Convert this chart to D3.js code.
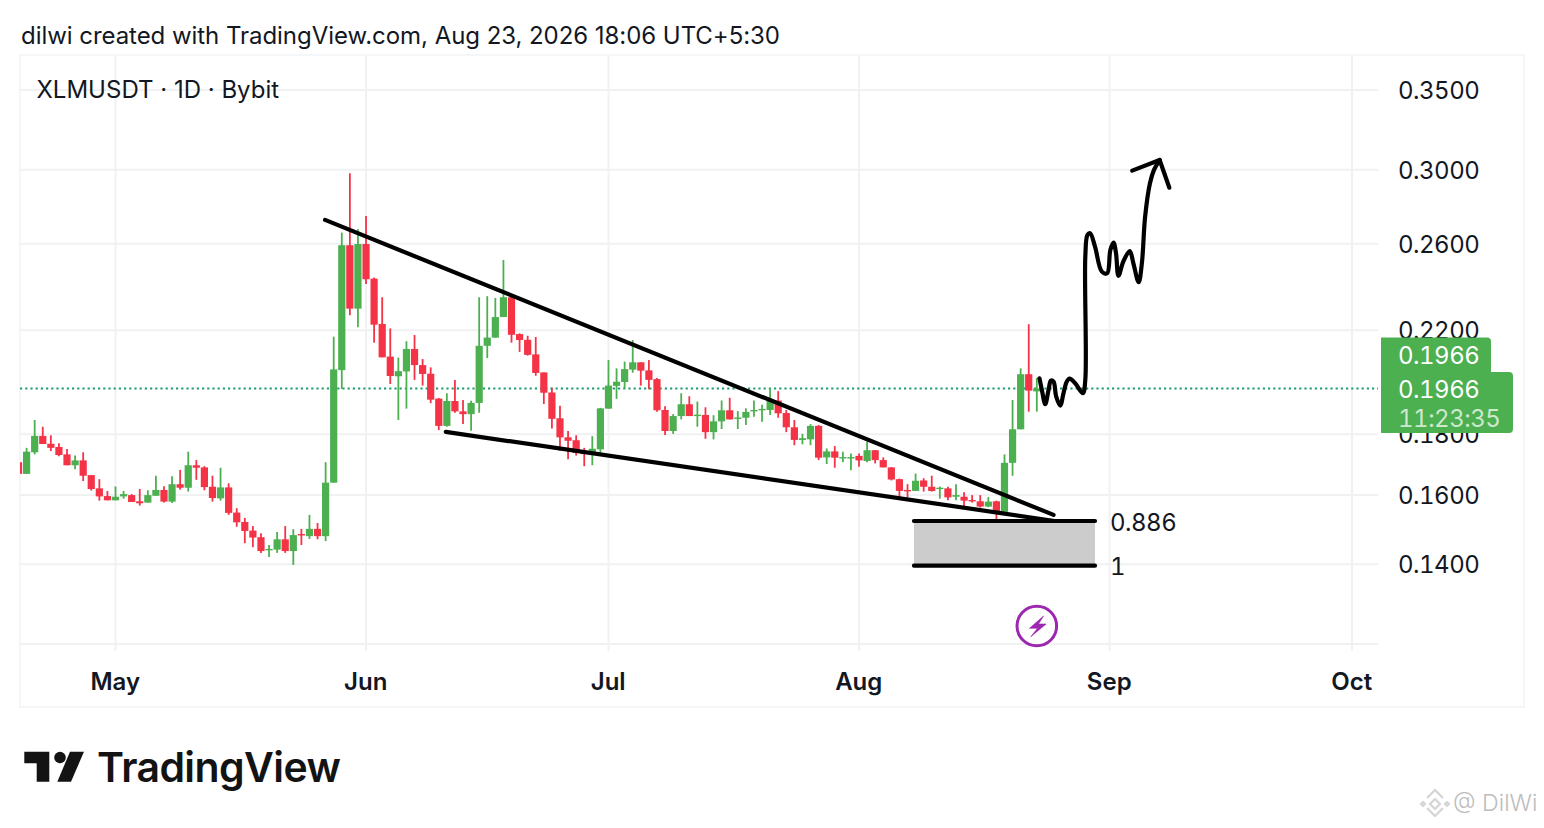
<!DOCTYPE html>
<html>
<head>
<meta charset="utf-8">
<script src="https://cdn.jsdelivr.net/npm/d3@7"></script>
<style>
  html, body { margin: 0; padding: 0; background: #fff; }
  svg { display: block; }
  text { font-family: Inter, "Noto Sans", sans-serif; fill: #131722; }
  .axis .domain { display: none; }
  .num { font-feature-settings: "tnum"; font-variant-numeric: tabular-nums; letter-spacing: -0.5px; }
</style>
</head>
<body>
<svg id="chart" width="1544" height="828"></svg>
<script>
// daily candles, first one is 19 Apr
const firstDay = new Date(Date.UTC(2026, 3, 19));
const opens = [.1705,.1667,.1738,.1794,.1767,.1756,.1731,.1695,.1711,.1663,.1621,.1597,.1584,.1596,.1600,.1581,.1577,.1598,.1616,.1580,.1634,.1623,.1695,.1688,.1626,.1590,.1624,.1547,.1519,.1494,.1475,.1439,.1440,.1469,.1436,.1484,.1478,.1499,.1478,.1639,.2037,.2593,.2294,.2599,.2431,.2227,.2091,.2013,.2032,.2122,.2057,.2023,.1928,.1829,.1919,.1881,.1871,.1912,.2135,.2169,.2257,.2345,.2184,.2160,.2100,.2028,.1951,.1856,.1789,.1779,.1738,.1732,.1748,.1891,.1976,.1991,.2039,.2068,.2036,.2002,.1886,.1811,.1864,.1907,.1865,.1868,.1807,.1845,.1885,.1856,.1858,.1882,.1886,.1886,.1921,.1875,.1824,.1780,.1782,.1829,.1721,.1741,.1720,.1720,.1726,.1709,.1745,.1712,.1688,.1650,.1616,.1613,.1646,.1626,.1620,.1621,.1595,.1595,.1585,.1581,.1565,.1581,.1549,.1703,.1817,.2021,.1955];
const highs = [.1705,.1753,.1850,.1826,.1796,.1769,.1749,.1727,.1738,.1663,.1650,.1613,.1627,.1613,.1603,.1619,.1615,.1661,.1628,.1659,.1680,.1740,.1712,.1692,.1661,.1687,.1637,.1560,.1531,.1507,.1486,.1453,.1490,.1507,.1498,.1499,.1540,.1516,.1705,.2173,.2657,.2980,.2674,.2744,.2436,.2345,.2208,.2087,.2154,.2180,.2081,.2048,.1930,.1948,.1999,.1923,.1920,.2345,.2350,.2342,.2520,.2355,.2187,.2177,.2172,.2028,.1969,.1902,.1811,.1796,.1753,.1793,.1894,.2077,.2044,.2071,.2159,.2068,.2077,.2006,.1900,.1871,.1948,.1937,.1917,.1896,.1867,.1921,.1931,.1882,.1892,.1921,.1905,.1967,.1956,.1886,.1850,.1801,.1835,.1832,.1751,.1759,.1740,.1734,.1734,.1775,.1745,.1721,.1689,.1652,.1634,.1668,.1653,.1661,.1627,.1626,.1634,.1609,.1600,.1600,.1594,.1583,.1731,.1923,.2044,.2226,.2006];
const lows = [.1667,.1667,.1731,.1766,.1742,.1725,.1695,.1682,.1644,.1614,.1583,.1584,.1584,.1589,.1579,.1568,.1577,.1598,.1577,.1576,.1617,.1611,.1648,.1615,.1580,.1583,.1540,.1505,.1458,.1447,.1431,.1420,.1431,.1431,.1398,.1453,.1470,.1469,.1464,.1639,.1964,.2265,.2213,.2406,.2148,.2088,.1983,.1850,.1891,.1999,.1977,.1911,.1814,.1826,.1876,.1836,.1812,.1876,.2085,.2169,.2257,.2148,.2110,.2095,.2015,.1908,.1820,.1743,.1715,.1727,.1692,.1695,.1736,.1891,.1927,.1967,.2027,.1977,.1963,.1880,.1797,.1801,.1852,.1864,.1826,.1784,.1782,.1818,.1852,.1818,.1832,.1862,.1844,.1868,.1858,.1807,.1762,.1765,.1762,.1712,.1699,.1687,.1705,.1679,.1690,.1705,.1701,.1688,.1646,.1595,.1592,.1613,.1611,.1611,.1589,.1584,.1584,.1560,.1577,.1562,.1563,.1527,.1540,.1661,.1817,.1880,.1880];
const closes = [.1667,.1740,.1794,.1766,.1753,.1729,.1695,.1711,.1661,.1619,.1596,.1584,.1595,.1603,.1579,.1575,.1600,.1616,.1580,.1634,.1623,.1695,.1687,.1625,.1591,.1624,.1546,.1518,.1493,.1474,.1436,.1442,.1469,.1436,.1481,.1481,.1499,.1478,.1639,.2040,.2593,.2294,.2599,.2428,.2224,.2088,.2014,.2033,.2122,.2057,.2022,.1924,.1829,.1919,.1881,.1871,.1912,.2135,.2169,.2257,.2345,.2181,.2159,.2098,.2026,.1950,.1854,.1789,.1777,.1736,.1732,.1750,.1892,.1977,.1992,.2041,.2068,.2035,.1999,.1885,.1811,.1864,.1907,.1864,.1869,.1807,.1845,.1885,.1852,.1859,.1879,.1886,.1890,.1921,.1874,.1824,.1780,.1786,.1829,.1720,.1741,.1720,.1722,.1722,.1711,.1745,.1712,.1688,.1649,.1613,.1613,.1645,.1626,.1613,.1623,.1593,.1600,.1583,.1582,.1565,.1580,.1549,.1703,.1817,.2021,.1958,.1966];

const priceTicks = [0.35, 0.30, 0.26, 0.22, 0.18, 0.16, 0.14];
const priceGrid = [0.35, 0.30, 0.26, 0.22, 0.18, 0.16, 0.14, 0.12];
const monthTicks = [[2026, 4], [2026, 5], [2026, 6], [2026, 7], [2026, 8], [2026, 9]].map(d => new Date(Date.UTC(d[0], d[1], 1)));
const lastPrice = 0.1966;
const countdown = "11:23:35";

// drawings: [days after firstDay, price]
const upperTrend = [[37.93, .2723], [128.07, .1540]];
const lowerTrend = [[52.87, .1808], [128.2, .1522]];
const fibDays = [110.8, 133.2];
const fibLevels = [{ label: "0.886", price: .1522 }, { label: "1", price: .1396 }];
const projection = [[126.33,.2005],[126.63,.1960],[127.04,.1907],[127.45,.1960],[127.74,.1996],[128.07,.1992],[128.4,.1935],[128.9,.1902],[129.3,.1948],[129.7,.1992],[130.05,.2004],[130.75,.1986],[131.7,.1948],[132,.1999],[132,.2536],[132.27,.2645],[132.6,.2654],[133.2,.2586],[134.05,.2464],[134.7,.2456],[135.1,.2569],[135.5,.2606],[135.8,.2553],[136.1,.2444],[136.7,.2512],[137.5,.2564],[137.95,.2504],[138.6,.2414],[139,.2504],[139.4,.2740],[140,.2923],[140.5,.2999],[141.2,.3057]];
const arrowHead = [[137.8,.2995],[141.2,.3057],[142.4,.2898]];

const svg = d3.select("#chart");
const dayMs = 86400000;
const toDate = d => new Date(firstDay.getTime() + d * dayMs);

const x = d3.scaleUtc()
  .domain([new Date(Date.UTC(2026, 4, 1)), new Date(Date.UTC(2026, 9, 1))])
  .range([115.5, 1352]);
const y = d3.scaleLog().domain([0.35, 0.12]).range([90, 644]);

const up = "#4caf50", down = "#f43347";

// outer frame
svg.append("rect").attr("x", 20).attr("y", 55).attr("width", 1504).attr("height", 652)
  .attr("fill", "none").attr("stroke", "#f2f3f5").attr("stroke-width", 1.5);

svg.append("clipPath").attr("id", "pane").append("rect")
  .attr("x", 20).attr("y", 56).attr("width", 1358).attr("height", 650);

// Grid
const grid = svg.append("g").attr("stroke", "#f0f1f3").attr("stroke-width", 2);
grid.selectAll("line.h").data(priceGrid).join("line").attr("class", "h")
  .attr("x1", 20).attr("x2", 1378).attr("y1", d => y(d)).attr("y2", d => y(d));
grid.selectAll("line.v").data(monthTicks).join("line").attr("class", "v")
  .attr("x1", d => x(d)).attr("x2", d => x(d)).attr("y1", 56).attr("y2", 651);

// Axes
const yAxis = svg.append("g").attr("class", "axis").attr("transform", "translate(1398,0)")
  .call(d3.axisRight(y).tickValues(priceTicks).tickSize(0).tickPadding(0).tickFormat(d3.format(".4f")));
yAxis.selectAll("text").attr("class", "num").attr("font-size", 24)
  .style("font-family", "Inter, sans-serif").attr("dy", "0.36em");

const xAxis = svg.append("g").attr("class", "axis").attr("transform", "translate(-0.8,681)")
  .call(d3.axisBottom(x).tickValues(monthTicks).tickSize(0).tickPadding(0).tickFormat(d3.utcFormat("%b")));
xAxis.selectAll("text").attr("font-size", 24).attr("font-weight", 600).attr("y", 0).attr("dy", "0.36em")
  .style("font-family", "Inter, sans-serif");

// Last price line
svg.append("line").attr("x1", 20).attr("x2", 1378).attr("y1", y(lastPrice)).attr("y2", y(lastPrice))
  .attr("stroke", "#1f9d6f").attr("stroke-width", 2).attr("stroke-dasharray", "2.2 3");

// Candles
const candles = svg.append("g").attr("clip-path", "url(#pane)")
  .selectAll("g").data(opens).join("g")
  .attr("fill", (d, i) => closes[i] >= d ? up : down)
  .attr("stroke", (d, i) => closes[i] >= d ? up : down);

candles.append("line")
  .attr("x1", (d, i) => x(toDate(i))).attr("x2", (d, i) => x(toDate(i)))
  .attr("y1", (d, i) => y(highs[i])).attr("y2", (d, i) => y(lows[i]))
  .attr("stroke-width", 1.8);

candles.append("rect")
  .attr("x", (d, i) => x(toDate(i)) - 3.6).attr("width", 7.2)
  .attr("y", (d, i) => y(Math.max(d, closes[i])))
  .attr("height", (d, i) => Math.max(1.4, Math.abs(y(d) - y(closes[i]))))
  .attr("stroke", "none");

// Fib box
const px = d => x(toDate(d[0])), py = d => y(d[1]);
const line = d3.line().x(px).y(py);

svg.append("rect")
  .attr("x", x(toDate(fibDays[0]))).attr("width", x(toDate(fibDays[1])) - x(toDate(fibDays[0])))
  .attr("y", y(fibLevels[0].price)).attr("height", y(fibLevels[1].price) - y(fibLevels[0].price))
  .attr("fill", "#cccccc");

const ink = svg.append("g").attr("fill", "none").attr("stroke", "#000")
  .attr("stroke-linecap", "round").attr("stroke-linejoin", "round");

[upperTrend, lowerTrend].forEach(l => ink.append("path").attr("d", line(l)).attr("stroke-width", 4.2));
fibLevels.forEach(f => ink.append("path")
  .attr("d", line(fibDays.map(d => [d, f.price]))).attr("stroke-width", 4.2));

const curve = d3.line().x(px).y(py).curve(d3.curveCatmullRom.alpha(0.5));
ink.append("path").attr("d", curve(projection)).attr("stroke-width", 4.2);
ink.append("path").attr("d", line(arrowHead)).attr("stroke-width", 4.2);

svg.selectAll("text.fib").data(fibLevels).join("text").attr("class", "fib num")
  .attr("x", 1110).attr("y", d => y(d.price) + 1).attr("dy", "0.36em")
  .attr("font-size", 24).text(d => d.label);

// Lightning marker under last bar
const bolt = svg.append("g").attr("transform", `translate(${x(toDate(opens.length - 1))},626)`);
bolt.append("circle").attr("r", 19.8).attr("fill", "#fff").attr("stroke", "#9c27b0").attr("stroke-width", 3);
bolt.append("path").attr("d", "M6.7,-10 L-7.3,2.3 L0.7,2.3 L-6,10.7 L9.3,-2 L1.7,-2 Z").attr("fill", "#9c27b0")
  .attr("stroke", "#9c27b0").attr("stroke-width", 0.6).attr("stroke-linejoin", "round");

// Price labels on the scale
const tag = svg.append("g");
tag.append("path").attr("fill", up)
  .attr("d", "M1381,337.5 H1487 a4,4 0 0 1 4,4 V372 H1509 a4,4 0 0 1 4,4 V429 a4,4 0 0 1 -4,4 H1381 Z");
tag.selectAll("text").data([
  { t: d3.format(".4f")(lastPrice), cy: 355, o: 1 },
  { t: d3.format(".4f")(lastPrice), cy: 389, o: 1 },
  { t: countdown, cy: 418, o: 0.72 }
]).join("text").attr("class", "num")
  .attr("x", 1398).attr("y", d => d.cy).attr("dy", "0.36em")
  .attr("font-size", 24).style("fill", "#fff").style("fill-opacity", d => d.o)
  .text(d => d.t);

// Header texts
svg.append("text").attr("x", 21).attr("y", 44).attr("font-size", 24).attr("letter-spacing", "-0.05")
  .text("dilwi created with TradingView.com, Aug 23, 2026 18:06 UTC+5:30");
svg.append("text").attr("x", 36.5).attr("y", 98).attr("font-size", 24)
  .text("XLMUSDT · 1D · Bybit");

// TradingView logo
const logo = svg.append("g").attr("fill", "#131313");
logo.append("path").attr("d", "M24.3,751.7 H49.3 V781.7 H36.7 V763.3 H24.3 Z");
logo.append("circle").attr("cx", 60).attr("cy", 757.5).attr("r", 5.8);
logo.append("path").attr("d", "M70,751.7 H84 L71,781.7 H57.3 Z");
svg.append("text").attr("x", 97).attr("y", 781.5).attr("font-size", 41).attr("font-weight", 600)
  .attr("letter-spacing", "-0.6").style("fill", "#131313").text("TradingView");

// Watermark
const wm = svg.append("g").attr("fill", "none").attr("stroke", "#d6d6d6").attr("stroke-width", 2.4)
  .attr("stroke-linejoin", "round");
wm.append("path").attr("d", "M1427,798 L1435,790 L1443,798");
wm.append("path").attr("d", "M1427,808 L1435,816 L1443,808");
wm.append("path").attr("d", "M1435,799 L1440,804 L1435,809 L1430,804 Z");
wm.append("path").attr("d", "M1421,804 L1423,802 L1425,804 L1423,806 Z M1445,804 L1447,802 L1449,804 L1447,806 Z");
svg.append("text").attr("x", 1453).attr("y", 811).attr("font-size", 23.2).attr("font-weight", 300)
  .style("fill", "#bdbdbd").text("@ DilWi");
</script>
</body>
</html>
